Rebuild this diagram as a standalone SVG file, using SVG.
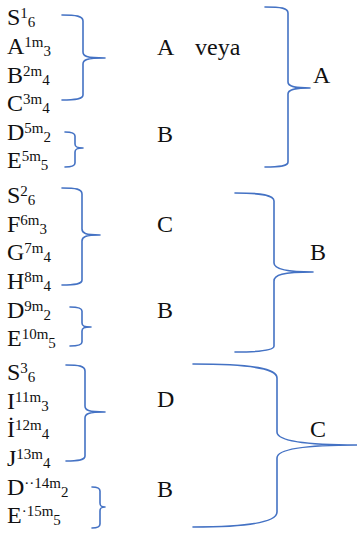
<svg xmlns="http://www.w3.org/2000/svg" width="357" height="533" viewBox="0 0 357 533">
<style>
.t{font-family:"Liberation Serif","Times New Roman",serif;font-size:24px;fill:#111}
.s{font-size:15px}
.b{fill:none;stroke:#4472C4;stroke-width:1.6;stroke-linecap:round}
</style>
<rect width="357" height="533" fill="#fff"/>
<g id="items">
<text class="t" x="7" y="25">S<tspan class="s" dy="-7">1</tspan><tspan class="s" dy="9">6</tspan></text>
<text class="t" x="7" y="54">A<tspan class="s" dy="-7">1m</tspan><tspan class="s" dy="9">3</tspan></text>
<text class="t" x="7" y="82.5">B<tspan class="s" dy="-7">2m</tspan><tspan class="s" dy="9">4</tspan></text>
<text class="t" x="7" y="111">C<tspan class="s" dy="-7">3m</tspan><tspan class="s" dy="9">4</tspan></text>
<text class="t" x="7" y="139.5">D<tspan class="s" dy="-7">5m</tspan><tspan class="s" dy="9">2</tspan></text>
<text class="t" x="7" y="168">E<tspan class="s" dy="-7">5m</tspan><tspan class="s" dy="9">5</tspan></text>
<text class="t" x="7" y="203">S<tspan class="s" dy="-7">2</tspan><tspan class="s" dy="9">6</tspan></text>
<text class="t" x="7" y="231.5">F<tspan class="s" dy="-7">6m</tspan><tspan class="s" dy="9">3</tspan></text>
<text class="t" x="7" y="260">G<tspan class="s" dy="-7">7m</tspan><tspan class="s" dy="9">4</tspan></text>
<text class="t" x="7" y="288.5">H<tspan class="s" dy="-7">8m</tspan><tspan class="s" dy="9">4</tspan></text>
<text class="t" x="7" y="317.5">D<tspan class="s" dy="-7">9m</tspan><tspan class="s" dy="9">2</tspan></text>
<text class="t" x="7" y="346">E<tspan class="s" dy="-7">10m</tspan><tspan class="s" dy="9">5</tspan></text>
<text class="t" x="7" y="380">S<tspan class="s" dy="-7">3</tspan><tspan class="s" dy="9">6</tspan></text>
<text class="t" x="7" y="408.5">I<tspan class="s" dy="-7">11m</tspan><tspan class="s" dy="9">3</tspan></text>
<text class="t" x="7" y="437">İ<tspan class="s" dy="-7">12m</tspan><tspan class="s" dy="9">4</tspan></text>
<text class="t" x="7" y="465.5">J<tspan class="s" dy="-7">13m</tspan><tspan class="s" dy="9">4</tspan></text>
<text class="t" x="7" y="494.5">D<tspan class="s" dy="-7">··14m</tspan><tspan class="s" dy="9">2</tspan></text>
<text class="t" x="7" y="523">E<tspan class="s" dy="-7">·15m</tspan><tspan class="s" dy="9">5</tspan></text>
</g>
<g id="groups">
<text class="t" x="157" y="55">A</text>
<text class="t" x="195" y="55">veya</text>
<text class="t" x="157" y="142">B</text>
<text class="t" x="157" y="232">C</text>
<text class="t" x="157" y="318">B</text>
<text class="t" x="157" y="407">D</text>
<text class="t" x="157" y="497">B</text>
</g>
<g id="results">
<text class="t" x="313" y="83">A</text>
<text class="t" x="310" y="260">B</text>
<text class="t" x="310" y="437">C</text>
</g>
<g id="braces">
<path class="b" d="M62,15 C76,15 83,16 83,21 L83,52 C83,56 86,58 105,58 M105,58 C86,58 83,60 83,64 L83,95 C83,99 76,100 62,100"/>
<path class="b" d="M65,132 C72,132 75,133 75,136 L75,144 C75,147 77,148 83,148 M83,148 C77,148 75,149 75,152 L75,163 C75,166 72,167 65,167"/>
<path class="b" d="M62,188 C76,188 82,189 82,194 L82,229 C82,233 85,235 100,235 M100,235 C85,235 82,237 82,241 L82,280 C82,284 76,285 62,285"/>
<path class="b" d="M70,307 C78,307 82,308 82,311 L82,323 C82,326 84,327 91,327 M91,327 C84,327 82,328 82,331 L82,342 C82,345 78,346 70,346"/>
<path class="b" d="M66,365 C79,365 85,366 85,371 L85,406 C85,410 88,412 105,412 M105,412 C88,412 85,414 85,418 L85,456 C85,460 79,461 66,461"/>
<path class="b" d="M92,487 C97,487 100,488 100,491 L100,503 C100,506 101,507 105,507 M105,507 C101,507 100,508 100,511 L100,524 C100,527 97,528 92,528"/>
<path class="b" d="M265,7 C281,7 288,8 288,13 L288,82 C288,86 293,88 310,88 M310,88 C293,88 288,90 288,94 L288,162 C288,166 281,167 265,167"/>
<path class="b" d="M235,193 C262,193 274,195 274,201 L274,263 C274,268 282,272 313,272 M313,272 C282,272 274,275 274,281 L274,346 C274,350 262,352 235,352"/>
<path class="b" d="M193,364 C255,364 277,369 277,378 L277,432 C277,440 300,445 357,445 M357,445 C300,445 277,450 277,458 L277,512 C277,521 255,527 193,527"/>
</g>
</svg>
